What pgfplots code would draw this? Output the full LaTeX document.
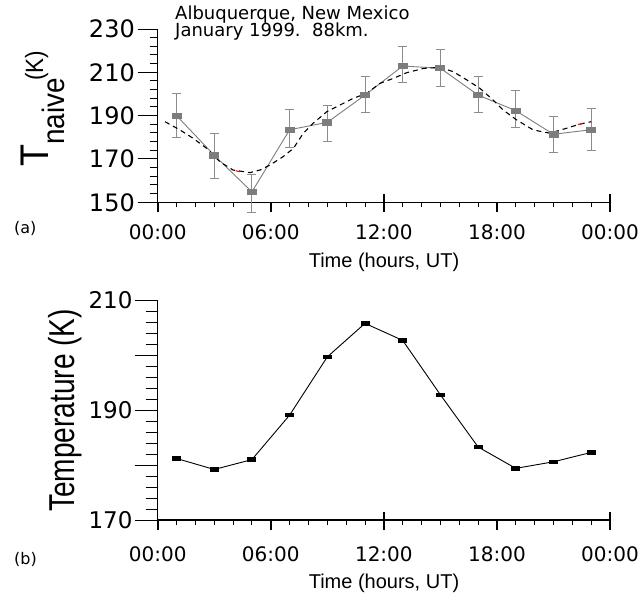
\documentclass[border=0pt]{standalone}
\usepackage{pgfplots}
\pgfplotsset{compat=1.18}
\usepackage{fontspec}
\setmainfont{DejaVu Sans}
\newfontfamily\libsans{Liberation Sans}
\definecolor{dgray}{RGB}{125,125,125}
\definecolor{lgray}{RGB}{140,140,140}
\pgfplotsset{
  panel/.style={
    scale only axis, width=452.3pt, xmin=0, xmax=24, anchor=south west,
    axis lines=left, tick align=outside, clip=false,
    every tick/.style={black, line width=1pt},
    /pgf/number format/assume math mode=true,
  },
  yaxis/.style={
    panel, axis line style={-, line width=1.2pt}, xtick=\empty,
    yticklabel style={anchor=east, inner sep=0pt},
  },
  xaxis/.style={
    panel, axis line style={draw=none}, ytick=\empty,
    xtick={0,6,12,18,24}, xticklabels={00:00,06:00,12:00,18:00,00:00},
    minor x tick num=5, major tick length=10pt, minor tick length=5pt,
    major tick style={line width=1.8pt},
    xticklabel style={font=\fontsize{20}{20}\selectfont, anchor=north, inner sep=0pt},
  },
  xextra/.style={
    panel, axis line style={draw=none}, ytick=\empty,
    xtick={12,24}, xticklabels={}, tick align=center, major tick length=17pt,
    major tick style={line width=1.8pt},
  },
}
\begin{document}
\begin{tikzpicture}
\useasboundingbox (0pt,0pt) rectangle (642pt,600pt);
% ---------- top panel ----------
\begin{axis}[xaxis, at={(157.7pt,397.7pt)}, height=173.3pt, ymin=150, ymax=230, xticklabel shift=12pt]
\end{axis}
\begin{axis}[xextra, at={(157.7pt,397.7pt)}, height=173.3pt, ymin=150, ymax=230]
\end{axis}
\begin{axis}[yaxis, at={(157.7pt,397.7pt)}, height=173.3pt,
  ymin=150, ymax=230, ytick={150,170,...,230}, minor y tick num=4,
  major tick length=20pt, minor tick length=8pt, yticklabel shift=2.7pt,
  yticklabel style={font=\fontsize{24}{24}\selectfont}]
\addplot[dgray, line width=0.9pt, mark=square*, mark size=4.5pt,
  mark options={yscale=0.6, fill=dgray, draw=dgray},
  error bars/.cd, y dir=both, y explicit,
  error bar style={lgray, line width=1pt},
  error mark options={rotate=90, mark size=4.5pt, lgray, line width=1pt}]
coordinates {
(1,190.0) += (0,10.4) -= (0,10.0)
(3,171.7) += (0,10.0) -= (0,10.6)
(5,154.8) += (0,8.1) -= (0,9.3)
(7,183.5) += (0,9.3) -= (0,8.3)
(9,186.9) += (0,8.0) -= (0,8.9)
(11,199.5) += (0,8.7) -= (0,8.1)
(13,212.9) += (0,9.1) -= (0,7.8)
(15,211.9) += (0,8.7) -= (0,8.5)
(17,199.5) += (0,8.8) -= (0,8.1)
(19,192.3) += (0,9.1) -= (0,7.9)
(21,181.4) += (0,8.4) -= (0,8.5)
(23,183.5) += (0,10.0) -= (0,9.7)
};
\addplot[black, line width=1.1pt, dash pattern=on 5pt off 4pt] coordinates {
(0.39,187.2)(1.18,183.4)(1.89,179.5)(2.6,174.9)(3.3,168.7)(4.0,164.9)(4.9,163.7)
(5.43,164.9)(5.96,167.2)(6.66,171.1)(7.2,174.9)(7.72,181.8)(8.25,186.5)(8.97,191.8)
(9.67,194.9)(10.38,198.0)(11.09,200.3)(11.79,204.9)(12.5,207.2)(13.2,209.8)(14.1,211.8)
(14.98,212.3)(15.68,210.3)(16.4,206.5)(17.1,202.6)(17.8,197.2)(18.33,192.6)(19.05,188.0)
(19.93,183.4)(20.8,181.9)(21.7,184.2)(22.4,186.1)(23.0,187.2)
};
\addplot[red, line width=1.1pt] coordinates {(4.15,164.5)(4.35,164.2)};
\addplot[red, line width=1.1pt] coordinates {(22.3,185.9)(22.55,186.4)};
\end{axis}
% ---------- bottom panel ----------
\begin{axis}[xaxis, at={(157.7pt,80pt)}, height=219.7pt, ymin=170, ymax=210, xticklabel shift=16.5pt]
\end{axis}
\begin{axis}[xextra, at={(157.7pt,80pt)}, height=219.7pt, ymin=170, ymax=210]
\end{axis}
\begin{axis}[yaxis, at={(157.7pt,80pt)}, height=219.7pt,
  ymin=170, ymax=210, ytick={170,190,210}, minor y tick num=9,
  extra y ticks={180,200}, extra y tick labels={},
  major tick length=23pt, minor tick length=12pt, yticklabel shift=2pt,
  yticklabel style={font=\fontsize{23}{23}\selectfont}]
\addplot[black, line width=0.9pt, mark=square*, mark size=4pt,
  mark options={yscale=0.45, fill=black}]
coordinates {
(1,181.2)(3,179.2)(5,181.0)(7,189.1)(9,199.7)(11,205.8)
(13,202.7)(15,192.8)(17,183.3)(19,179.4)(21,180.6)(23,182.3)
};
\end{axis}
% ---------- texts ----------
\node[anchor=base west, inner sep=0pt, font=\fontsize{18}{18}\selectfont] at (175pt,580pt) {Albuquerque, New Mexico};
\node[anchor=base west, inner sep=0pt, font=\fontsize{18}{18}\selectfont] at (175pt,563pt) {January 1999.\ \ 88km.};
\node[anchor=base, inner sep=0pt, font=\libsans\fontsize{20}{20}\selectfont] at (384pt,332pt) {Time (hours, UT)};
\node[anchor=base, inner sep=0pt, font=\libsans\fontsize{20}{20}\selectfont] at (384pt,12pt) {Time (hours, UT)};
\node[anchor=base west, inner sep=0pt, font=\fontsize{16}{16}\selectfont] at (14pt,366pt) {(a)};
\node[anchor=base west, inner sep=0pt, font=\fontsize{16}{16}\selectfont] at (14pt,36pt) {(b)};
\node[rotate=90, anchor=base west, inner sep=0pt] at (48pt,433pt)
  {\libsans\scalebox{0.9}[1]{\fontsize{40}{40}\selectfont T\raisebox{-16pt}{\fontsize{31}{31}\selectfont naive}\hspace{-3pt}\raisebox{5pt}{\fontsize{25}{25}\selectfont (K)}}};
\node[rotate=90, anchor=base west, inner sep=0pt] at (74pt,88pt)
  {\libsans\scalebox{0.78}[1]{\fontsize{36}{36}\selectfont Temperature (K)}};
\end{tikzpicture}
\end{document}
